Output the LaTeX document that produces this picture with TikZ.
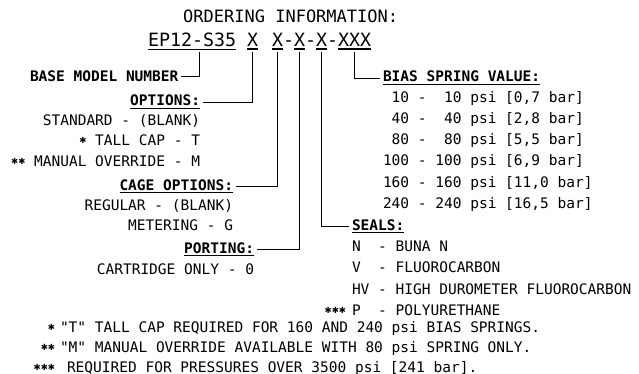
\documentclass[tikz,border=0pt]{standalone}
\usepackage{fontspec}
\setmainfont{DejaVu Sans Mono}
\newfontfamily\symfont{DejaVu Sans}
\usepackage{tikz}
\usetikzlibrary{positioning}
\newcommand\bodysize{\fontsize{14.5}{17}\selectfont}
\newcommand\pz{\hphantom{0}}
\newcommand\ul[1]{\vtop{\hbox{#1}\kern2pt\hrule height 1.2pt}}
\newcommand\hd[1]{\ul{\textbf{#1}}}
\newcommand\stars[1]{\raisebox{2pt}{\symfont\fontsize{8.5}{10}\selectfont#1}}
\newcommand\qt[1]{\textquotedbl#1\textquotedbl}
\tikzset{
  txt/.style={font=\bodysize, inner sep=0pt, outer sep=0pt},
  code/.style={font=\fontsize{18.3}{22}\selectfont, inner sep=0pt, outer sep=0pt},
  lead/.style={line width=0.9pt, shorten <=2pt, shorten >=3pt}
}

\begin{document}
\begin{tikzpicture}[x=1pt,y=-1pt]
  \useasboundingbox (0,0) rectangle (639,374);

  % titre et code
  \node[font=\fontsize{17}{20}\selectfont,inner sep=0pt,anchor=base west] (title) at (183,23) {ORDERING INFORMATION:};
  \node[code,anchor=base west] (basecode) at (148,46.5) {\ul{EP12-S35}};
  \node[code,anchor=base west] (xopt) at (247,46.5) {\ul{X}};
  \node[code,anchor=base west] (xcage) at (272,46.5) {\ul{X}};
  \node[code,base right=0pt of xcage] (d1) {-};
  \node[code,base right=0pt of d1] (xport) {\ul{X}};
  \node[code,base right=0pt of xport] (d2) {-};
  \node[code,base right=0pt of d2] (xseal) {\ul{X}};
  \node[code,base right=0pt of xseal] (d3) {-};
  \node[code,base right=0pt of d3] (xbias) {\ul{XXX}};

  % colonne gauche
  \node[txt,anchor=base west] (base) at (30,82) {\textbf{BASE MODEL NUMBER}};

  \node[txt,anchor=base east] (opt) at (200,106) {\hd{OPTIONS:}};
  \node[txt,anchor=base east] (optstd) at (200,126) {STANDARD - (BLANK)};
  \node[txt,anchor=base east] (opttall) at (200,146) {\stars{✱} TALL CAP - T};
  \node[txt,anchor=base east] (optman) at (200,167) {\stars{✱✱} MANUAL OVERRIDE - M};

  \node[txt,anchor=base east] (cage) at (233,190) {\hd{CAGE OPTIONS:}};
  \node[txt,anchor=base east] (cagereg) at (233,210) {REGULAR - (BLANK)};
  \node[txt,anchor=base east] (cagemet) at (233,230) {METERING - G};

  \node[txt,anchor=base east] (port) at (254,253) {\hd{PORTING:}};
  \node[txt,anchor=base east] (portcart) at (254,274) {CARTRIDGE ONLY - 0};

  % colonne droite
  \node[txt,anchor=base west] (bias) at (383,82) {\hd{BIAS SPRING VALUE:}};
  \foreach \v/\b [count=\i] in {{\pz10}/{0,7},{\pz40}/{2,8},{\pz80}/{5,5},100/{6,9},160/{11,0},240/{16,5}}
    \node[txt,anchor=base west] (bias\i) at (383,{103+(\i-1)*21}) {\v{} - \v{} psi [\b{} bar]};

  \node[txt,anchor=base west] (seal) at (352,230) {\hd{SEALS:}};
  \node[txt,anchor=base west] (sealn) at (352,251) {N\pz{} - BUNA N};
  \node[txt,anchor=base west] (sealv) at (352,272) {V\pz{} - FLUOROCARBON};
  \node[txt,anchor=base west] (sealhv) at (352,294) {HV - HIGH DUROMETER FLUOROCARBON};
  \node[txt,anchor=base west] (sealp) at (352,315) {P\pz{} - POLYURETHANE};
  \node[txt,anchor=base east] (sealstar) at (346,315) {\stars{✱✱✱}};

  % renvois
  \draw[lead] ([xshift=7pt]basecode.south) |- (base.east);
  \draw[lead] (xopt.south) |- (opt.east);
  \draw[lead] (xcage.south) |- (cage.east);
  \draw[lead] (xport.south) |- (port.east);
  \draw[lead] (xseal.south) |- (seal.west);
  \draw[lead] (xbias.south) |- (bias.west);

  % notes
  \node[txt,anchor=base east] (star1) at (55,332) {\stars{✱}};
  \node[txt,anchor=base west] (note1) at (60,332) {\qt{T} TALL CAP REQUIRED FOR 160 AND 240 psi BIAS SPRINGS.};
  \node[txt,anchor=base east] (star2) at (55,352) {\stars{✱✱}};
  \node[txt,anchor=base west] (note2) at (60,352) {\qt{M} MANUAL OVERRIDE AVAILABLE WITH 80 psi SPRING ONLY.};
  \node[txt,anchor=base east] (star3) at (55,372) {\stars{✱✱✱}};
  \node[txt,anchor=base west] (note3) at (67,372) {REQUIRED FOR PRESSURES OVER 3500 psi [241 bar].};
\end{tikzpicture}
\end{document}
